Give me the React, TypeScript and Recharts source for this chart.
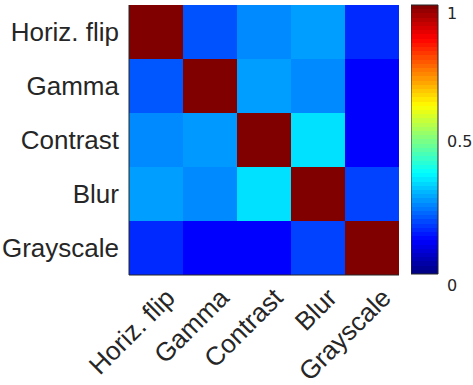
import React from 'react';
import { BarChart, Bar, XAxis, YAxis, Cell } from 'recharts';

// augmentation names, same order for rows (top to bottom) and columns (left to right)
const categories = ['Horiz. flip', 'Gamma', 'Contrast', 'Blur', 'Grayscale'];

// correlation rows
const horizFlip = [1, 0.205, 0.26, 0.28, 0.165];
const gamma = [0.21, 1, 0.28, 0.26, 0.125];
const contrast = [0.26, 0.275, 1, 0.345, 0.125];
const blur = [0.28, 0.26, 0.345, 1, 0.19];
const grayscale = [0.165, 0.125, 0.125, 0.19, 1];

const matrix = [horizFlip, gamma, contrast, blur, grayscale];

const colorbarTicks = [0, 0.5, 1];

const TEXT = '#262626';
const FONT = '"Liberation Sans", Arial, sans-serif';

const jet = (v: number) => {
  const c = (x: number) => Math.round(255 * Math.max(0, Math.min(1, x)));
  const r = c(1.5 - Math.abs(4 * v - 3));
  const g = c(1.5 - Math.abs(4 * v - 2));
  const b = c(1.5 - Math.abs(4 * v - 1));
  return `rgb(${r},${g},${b})`;
};

// one entry per column, each row is a unit-high stacked segment
const rowKeys = categories.map((_, i) => `r${i}`);
const heatData = categories.map((name) => {
  const d: Record<string, string | number> = { name };
  rowKeys.forEach((k) => (d[k] = 1));
  return d;
});

// 64 level colour bar like matlab's jet(64)
const LEVELS = 64;
const jetStops: { offset: string; color: string }[] = [];
for (let i = 0; i < LEVELS; i++) {
  const color = jet((i + 0.5) / LEVELS);
  jetStops.push({ offset: `${100 - (i / LEVELS) * 100}%`, color });
  jetStops.push({ offset: `${100 - ((i + 1) / LEVELS) * 100}%`, color });
}
jetStops.reverse();

const XTick = (props: any) => {
  const { x, y, payload } = props;
  return (
    <g transform={`translate(${x + 14},${y + 16})`}>
      <text
        textAnchor="end"
        transform="rotate(-45)"
        dy="0.35em"
        fill={TEXT}
        fontSize={26}
        fontFamily={FONT}
      >
        {payload.value}
      </text>
    </g>
  );
};

const barTickShift: Record<string, number> = { '0': 11, '0.5': 2, '1': 4 };

const BarTick = (props: any) => {
  const { x, y, payload } = props;
  return (
    <text
      x={x}
      y={y + (barTickShift[String(payload.value)] ?? 0)}
      dominantBaseline="central"
      fill={TEXT}
      fontSize={16}
      fontFamily='"DejaVu Sans", sans-serif'
    >
      {payload.value}
    </text>
  );
};

export default function App() {
  return (
    <div style={{ position: 'absolute', left: 0, top: 0, width: 473, height: 385, background: '#fff' }}>
      <div style={{ position: 'absolute', left: 0, top: 0 }}>
        <BarChart
          width={400}
          height={385}
          data={heatData}
          margin={{ top: 5, right: 1, left: 0, bottom: 0 }}
          barCategoryGap={0}
          barGap={0}
        >
          <XAxis
            dataKey="name"
            height={110}
            tickLine={false}
            tickSize={0}
            axisLine={{ stroke: TEXT }}
            tick={<XTick />}
            interval={0}
          />
          <XAxis
            xAxisId="top"
            dataKey="name"
            orientation="top"
            height={0}
            tick={false}
            tickLine={false}
            axisLine={{ stroke: TEXT }}
          />
          <YAxis
            type="number"
            domain={[0, 5]}
            ticks={[0.5, 1.5, 2.5, 3.5, 4.5]}
            width={129}
            tickLine={false}
            tickSize={0}
            tickMargin={10}
            axisLine={{ stroke: TEXT }}
            tickFormatter={(v: number) => categories[4 - Math.floor(v)]}
            tick={{ fill: TEXT, fontSize: 26, fontFamily: FONT }}
          />
          <YAxis
            yAxisId="right"
            type="number"
            orientation="right"
            domain={[0, 5]}
            width={0}
            tick={false}
            tickLine={false}
            axisLine={{ stroke: TEXT }}
          />
          {rowKeys
            .map((key, r) => (
              <Bar key={key} dataKey={key} stackId="m" isAnimationActive={false}>
                {categories.map((_, j) => (
                  <Cell key={j} fill={jet(matrix[r][j])} />
                ))}
              </Bar>
            ))
            .reverse()}
        </BarChart>
      </div>
      <div style={{ position: 'absolute', left: 411, top: 0 }}>
        <BarChart
          width={62}
          height={385}
          data={[{ name: 'bar', v: 1 }]}
          margin={{ top: 5, right: 0, left: 0, bottom: 111 }}
          barCategoryGap={0}
        >
          <defs>
            <linearGradient id="jetGrad" x1="0" y1="0" x2="0" y2="1">
              {jetStops.map((s, i) => (
                <stop key={i} offset={s.offset} stopColor={s.color} />
              ))}
            </linearGradient>
          </defs>
          <XAxis dataKey="name" hide />
          <YAxis
            type="number"
            orientation="right"
            domain={[0, 1]}
            ticks={colorbarTicks}
            width={35}
            axisLine={false}
            tickLine={false}
            tickSize={0}
            tickMargin={9}
            tick={<BarTick />}
          />
          <Bar
            dataKey="v"
            fill="url(#jetGrad)"
            stroke={TEXT}
            strokeWidth={1}
            isAnimationActive={false}
          />
        </BarChart>
      </div>
    </div>
  );
}
